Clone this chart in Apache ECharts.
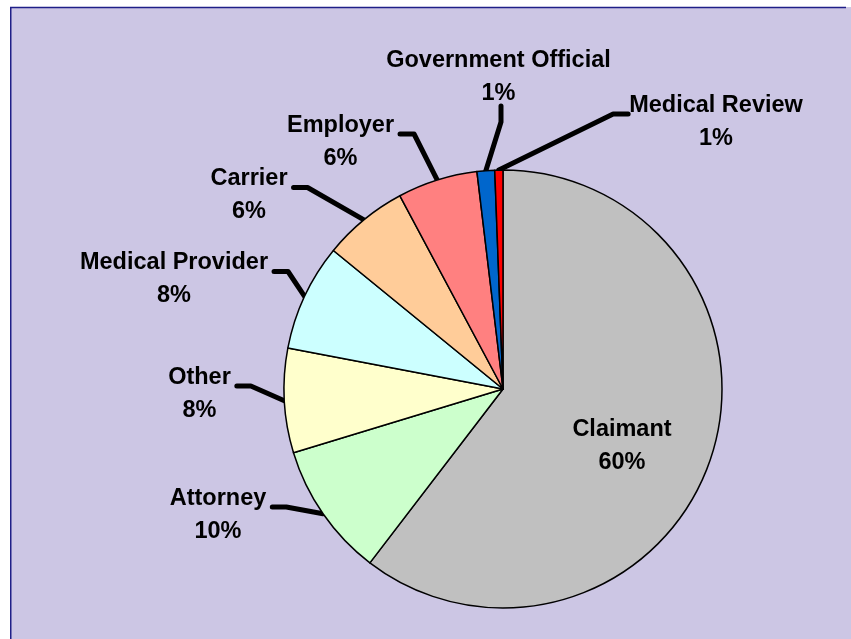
<!DOCTYPE html>
<html><head><meta charset="utf-8">
<script src="https://cdn.jsdelivr.net/npm/echarts@6/dist/echarts.min.js"></script>
<style>html,body{margin:0;padding:0;background:#fff}#c{width:851px;height:639px}</style>
</head><body><div id="c"></div>
<script>
// ---- data ----
const categories = ['Claimant', 'Attorney', 'Other', 'Medical Provider', 'Carrier', 'Employer', 'Government Official', 'Medical Review'];
const shares = [60.4, 9.9, 7.7, 7.9, 6.3, 5.9, 1.3, 0.6];
const sliceColors = ['#c0c0c0', '#ccffcc', '#ffffcc', '#ccffff', '#ffcc99', '#ff8080', '#0066cc', '#ff0000'];

// ---- layout (label block centres, leader side) ----
const labelCenters = [[622, 444], [218, 512.5], [199.5, 391.5], [174, 277], [249, 193], [340.5, 139.5], [498.5, 75], [716, 120]];
const leaderSide = [null, 'L', 'L', 'L', 'L', 'L', 'B', 'R'];
const textShiftY = 2.5;

const chart = echarts.init(document.getElementById('c'), null, { renderer: 'canvas' });

const pieData = categories.map((name, i) => ({
  name: name,
  value: shares[i],
  itemStyle: { color: sliceColors[i] },
  label: i === 0 ? { position: 'inside' } : { position: 'outside' },
  labelLine: { show: i !== 0 }
}));

chart.setOption({
  backgroundColor: '#ffffff',
  animation: false,
  graphic: [
    { type: 'rect', z: -10, silent: true, shape: { x: 10, y: 7, width: 900, height: 700 }, style: { fill: '#ccc6e4' } },
    { type: 'line', z: -9, silent: true, shape: { x1: 10, y1: 7.5, x2: 846, y2: 7.5 }, style: { stroke: '#1f1f88', lineWidth: 1.5 } },
    { type: 'line', z: -9, silent: true, shape: { x1: 10.75, y1: 7, x2: 10.75, y2: 639 }, style: { stroke: '#1f1f88', lineWidth: 1.5 } }
  ],
  series: [{
    type: 'pie',
    center: [503, 389],
    radius: 219,
    startAngle: 90,
    clockwise: true,
    avoidLabelOverlap: false,
    silent: true,
    emphasis: { disabled: true },
    itemStyle: { borderColor: '#000', borderWidth: 1.5 },
    label: {
      show: true,
      color: '#000',
      fontFamily: '"Liberation Sans", Arial, sans-serif',
      fontWeight: 'bold',
      fontSize: 23.5,
      lineHeight: 33,
      formatter: p => p.name + '\n' + Math.round(p.percent) + '%'
    },
    labelLine: {
      show: true,
      length: 10,
      length2: 10,
      smooth: false,
      lineStyle: { color: '#000', width: 5, cap: 'round', join: 'round' }
    },
    labelLayout: function (p) {
      const i = p.dataIndex;
      const c = labelCenters[i];
      const w = p.labelRect.width, h = p.labelRect.height;
      const out = { x: c[0], y: c[1] + textShiftY, align: 'center', verticalAlign: 'middle' };
      const pts = p.labelLinePoints;
      const side = leaderSide[i];
      if (pts && side) {
        const start = pts[0];
        let end, knee;
        if (side === 'L') { end = [c[0] + w / 2 + 6, c[1] - 5.5]; knee = [end[0] + 14, end[1]]; }
        else if (side === 'R') { end = [c[0] - w / 2 - 1, c[1] - 6]; knee = [end[0] - 15, end[1]]; }
        else { end = [c[0] + 2.5, c[1] + h / 2 - 2]; knee = [end[0], end[1] + 16]; }
        out.labelLinePoints = [start, knee, end];
      }
      return out;
    },
    data: pieData
  }]
});
</script>
</body></html>
